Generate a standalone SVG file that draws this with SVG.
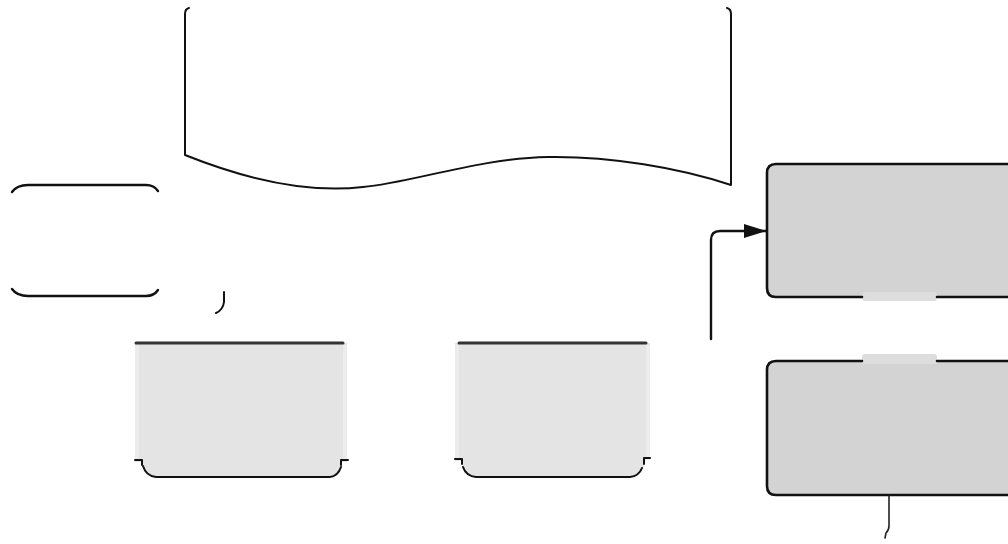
<svg xmlns="http://www.w3.org/2000/svg" width="1008" height="544" viewBox="0 0 1008 544">
<defs>
<style>
.ln{fill:none;stroke:#111;stroke-width:2.4;stroke-linecap:round;stroke-linejoin:round}
.thin{fill:none;stroke:#222;stroke-width:1.6;stroke-linecap:round}
.light{fill:#e4e4e4}
.dark{fill:#d3d3d3}
.bump{fill:#dddddd}
</style>
<marker id="arr" viewBox="0 0 22 14" refX="22" refY="7" markerWidth="22" markerHeight="14" markerUnits="userSpaceOnUse" orient="auto">
<path d="M0,0 L22,7 L0,14 z" fill="#111"/>
</marker>
</defs>
<rect width="1008" height="544" fill="#ffffff"/>
<g id="document">
<path class="ln" d="M189,8 Q185,9 185,14 L185,155 C260,185 320,192 363,187 C410,183 480,158 548,157 C610,156 680,168 731,185 L731,14 Q731,9 727,8" style="stroke-width:2"/>
</g>
<g id="bracket-node">
<path class="ln" d="M12,192 Q17,185 28,185 L146,185 Q154,185 158,191"/>
<path class="ln" d="M12,289 Q17,296 28,296 L146,296 Q154,296 158,290"/>
</g>
<g id="box-a">
<path class="light" d="M135,343 L347,343 L347,462 L341,462 L341,467 Q338,476 330,477 L156,477 Q146,476 143,466 L143,462 L135,462 Z"/>
<rect x="135" y="345" width="4" height="115" fill="#ececec"/>
<rect x="343" y="345" width="4" height="115" fill="#ececec"/>
<path class="ln" d="M136,343 L343,343" style="stroke:#333;stroke-width:3"/>
<path class="ln" d="M135,460 L142,460 L142,465 M348,460 L341,460 L341,465" style="stroke-width:2"/>
<path class="ln" d="M143,466 Q146,476 156,477 L330,477 Q338,476 341,467" style="stroke-width:2"/>
</g>
<g id="box-b">
<path class="light" d="M455,343 L650,343 L650,460 L644,460 L644,466 Q639,476 630,477 L476,477 Q466,476 463,467 L462,461 L455,461 Z"/>
<rect x="455" y="345" width="4" height="115" fill="#ececec"/>
<rect x="646" y="345" width="4" height="115" fill="#ececec"/>
<path class="ln" d="M459,343 L646,343" style="stroke:#333;stroke-width:3"/>
<path class="ln" d="M455,459 L462,459 L462,464 M650,458 L644,458 L644,464" style="stroke-width:2"/>
<path class="ln" d="M463,467 Q466,476 476,477 L630,477 Q639,476 642,468" style="stroke-width:2"/>
</g>
<g id="box-c">
<rect class="dark" x="767" y="164" width="250" height="133" rx="9"/>
<rect class="bump" x="862" y="292" width="75" height="9" rx="3"/>
<path class="ln" d="M862,297 L776,297 Q767,297 767,288 L767,173 Q767,164 776,164 L1010,164 M937,297 L1010,297" style="stroke-width:2.6"/>
</g>
<g id="box-d">
<rect class="dark" x="767" y="361" width="250" height="134" rx="9"/>
<rect class="bump" x="862" y="354" width="75" height="10" rx="3"/>
<path class="ln" d="M862,361 L776,361 Q767,361 767,370 L767,486 Q767,495 776,495 L1010,495 M937,361 L1010,361" style="stroke-width:2.6"/>
</g>
<g id="connectors">
<path class="ln" d="M711,339 L711,240 Q711,231 720,231 L766,231" marker-end="url(#arr)" style="stroke-width:2.4"/>
<path class="ln" d="M224,292 L224,302 Q223,310 216,313" style="stroke-width:2"/>
<path class="thin" d="M889,496 L889,526 Q889,530 886,533 L885,538"/>
</g>
</svg>
